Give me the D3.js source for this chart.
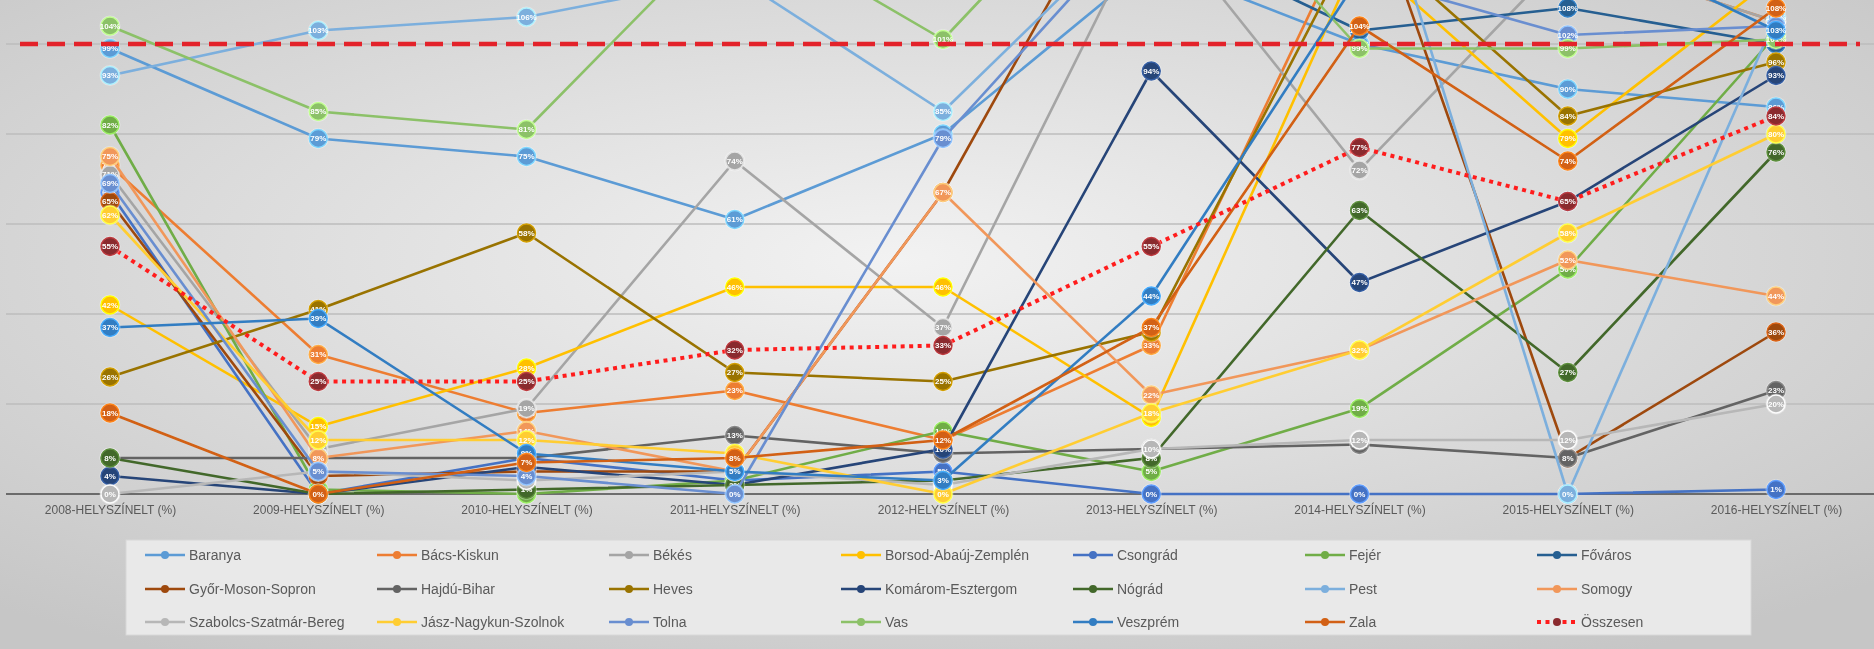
<!DOCTYPE html>
<html>
<head>
<meta charset="utf-8">
<script src="https://cdn.jsdelivr.net/npm/d3@7"></script>
<style>
  html, body { margin: 0; padding: 0; overflow: hidden; background: #d6d6d6; }
  svg { display: block; }
  text { font-family: "Liberation Sans", Arial, sans-serif; }
</style>
</head>
<body>
<svg id="chart" width="1874" height="649"></svg>
<script>
// kategóriák (évek)
const categories = [
  '2008-HELYSZÍNELT (%)', '2009-HELYSZÍNELT (%)', '2010-HELYSZÍNELT (%)',
  '2011-HELYSZÍNELT (%)', '2012-HELYSZÍNELT (%)', '2013-HELYSZÍNELT (%)',
  '2014-HELYSZÍNELT (%)', '2015-HELYSZÍNELT (%)', '2016-HELYSZÍNELT (%)'
];

// megyék értékei (%) – a kép tetején túlnyúló pontok becsültek
const baranya    = [99, 79, 75, 61, 80, 118, 100, 90, 86];
const bacsKiskun = [73, 31, 18, 23, 12, 33, 130, 120, 105];
const bekes      = [71, 10, 19, 74, 37, 130, 72, 120, 105];
const borsod     = [42, 15, 28, 46, 46, 17, 120, 79, 115];
const csongrad   = [67, 0, 8, 3, 5, 0, 0, 0, 1];
const fejer      = [82, 1, 0, 3, 14, 5, 19, 50, 102];
const fovaros    = [115, 118, 120, 118, 120, 125, 103, 108, 100];
const gyor       = [65, 4, 5, 5, 67, 150, 140, 8, 36];
const hajdu      = [8, 8, 8, 13, 9, 10, 11, 8, 23];
const heves      = [26, 41, 58, 27, 25, 36, 125, 84, 96];
const komarom    = [4, 0, 6, 2, 10, 94, 47, 65, 93];
const nograd     = [8, 0, 1, 2, 3, 8, 63, 27, 76];
const pest       = [93, 103, 106, 115, 85, 130, 150, 0, 106];
const somogy     = [75, 8, 14, 5, 67, 22, 32, 52, 44];
const szabolcs   = [0, 5, 3, 5, 2, 10, 12, 12, 20];
const jasz       = [62, 12, 12, 9, 0, 18, 32, 58, 80];
const tolna      = [69, 5, 4, 0, 79, 130, 115, 102, 104];
const vas        = [104, 85, 81, 128, 101, 150, 99, 99, 101];
const veszprem   = [37, 39, 9, 5, 3, 44, 115, 125, 103];
const zala       = [18, 0, 7, 8, 12, 37, 104, 74, 108];
const osszesen   = [55, 25, 25, 32, 33, 55, 77, 65, 84];

const targetValue = 100;
const yTicks = [0, 20, 40, 60, 80, 100];

const names = [
  'Baranya', 'Bács-Kiskun', 'Békés', 'Borsod-Abaúj-Zemplén', 'Csongrád', 'Fejér', 'Főváros',
  'Győr-Moson-Sopron', 'Hajdú-Bihar', 'Heves', 'Komárom-Esztergom', 'Nógrád', 'Pest', 'Somogy',
  'Szabolcs-Szatmár-Bereg', 'Jász-Nagykun-Szolnok', 'Tolna', 'Vas', 'Veszprém', 'Zala'
];
const colors = [
  '#5B9BD5', '#ED7D31', '#A5A5A5', '#FFC000', '#4472C4', '#70AD47', '#255E91',
  '#9E480E', '#636363', '#997300', '#264478', '#43682B', '#7CAFDD', '#F1975A',
  '#B7B7B7', '#FFCD33', '#698ED0', '#8CC168', '#327DC2', '#D26012'
];
const seriesValues = [
  baranya, bacsKiskun, bekes, borsod, csongrad, fejer, fovaros,
  gyor, hajdu, heves, komarom, nograd, pest, somogy,
  szabolcs, jasz, tolna, vas, veszprem, zala
];

const series = names.map((n, i) => ({ name: n, color: colors[i], values: seriesValues[i] }));

const W = 1874, H = 649;
const svg = d3.select('#chart');
const defs = svg.append('defs');

const bg = defs.append('radialGradient').attr('id', 'bg')
  .attr('cx', '48%').attr('cy', '40%').attr('r', '72%');
bg.append('stop').attr('offset', '0%').attr('stop-color', '#f2f2f2');
bg.append('stop').attr('offset', '100%').attr('stop-color', '#c6c6c6');

defs.append('filter').attr('id', 'soft')
  .append('feGaussianBlur').attr('stdDeviation', 0.5);

svg.append('rect').attr('width', W).attr('height', H).attr('fill', 'url(#bg)');

const root = svg.append('g').attr('filter', 'url(#soft)');

const x = d3.scalePoint().domain(categories).range([110, 1776]);
const y = d3.scaleLinear().domain([0, 100]).range([494, 44]);

// rácsvonalak
root.append('g').selectAll('line')
  .data(yTicks.filter(d => d > 0))
  .join('line')
  .attr('x1', 6).attr('x2', W)
  .attr('y1', d => y(d)).attr('y2', d => y(d))
  .attr('stroke', '#bcbcbc').attr('stroke-width', 1.3);

// x tengely
const xAxis = root.append('g')
  .attr('transform', `translate(0,${y(0)})`)
  .call(d3.axisBottom(x).tickSize(0).tickPadding(11));
xAxis.select('.domain').attr('d', `M6,0H${W}`).attr('stroke', '#4a4a4a').attr('stroke-width', 1.6);
xAxis.selectAll('text').attr('fill', '#5a5a5a').attr('font-size', 12);

const line = d3.line()
  .x((d, i) => x(categories[i]))
  .y(d => y(d));

const plot = root.append('g');

function drawSeries(s, opts) {
  const g = plot.append('g');
  g.append('path')
    .attr('d', line(s.values))
    .attr('fill', 'none')
    .attr('stroke', opts.lineColor || s.color)
    .attr('stroke-width', opts.width || 2.6)
    .attr('stroke-dasharray', opts.dash || null)
    .attr('stroke-linejoin', 'round');

  // a kép felső szélén túli pontok úgysem látszanak
  const pts = g.selectAll('g.pt')
    .data(s.values.map((v, i) => ({ v, i })).filter(d => y(d.v) > -11))
    .join('g')
    .attr('class', 'pt')
    .attr('transform', d => `translate(${x(categories[d.i])},${y(d.v)})`);

  pts.append('circle')
    .attr('r', 10.5)
    .attr('fill', '#ffffff')
    .attr('opacity', 0.35);
  pts.append('circle')
    .attr('r', 9)
    .attr('fill', opts.markerColor || s.color)
    .attr('stroke', d3.color(opts.markerColor || s.color).brighter(0.9))
    .attr('stroke-width', 1.4);
  pts.filter(d => y(d.v) > 4).append('text')
    .attr('text-anchor', 'middle')
    .attr('dy', '0.35em')
    .attr('font-size', 8)
    .attr('font-weight', 'bold')
    .attr('fill', '#ffffff')
    .text(d => Math.round(d.v) + '%');
}

series.forEach(s => drawSeries(s, {}));

// 100%-os célvonal
root.append('line')
  .attr('x1', 20).attr('x2', 1860)
  .attr('y1', y(targetValue)).attr('y2', y(targetValue))
  .attr('stroke', '#e3242b')
  .attr('stroke-width', 4.5)
  .attr('stroke-dasharray', '18,9');

drawSeries({ name: 'Összesen', color: '#ff1f1f', values: osszesen },
  { width: 4, dash: '4,4.5', markerColor: '#8a2a2e' });

// jelmagyarázat
const legend = root.append('g');
legend.append('rect')
  .attr('x', 126).attr('y', 540).attr('width', 1625).attr('height', 95)
  .attr('fill', '#e9e9e9').attr('stroke', '#d8d8d8');

const legendItems = series.concat([{ name: 'Összesen', color: '#ff1f1f', total: true }]);
const rowsY = [555, 589, 622];

const item = legend.selectAll('g.item')
  .data(legendItems)
  .join('g')
  .attr('class', 'item')
  .attr('transform', (d, i) => `translate(${145 + 232 * (i % 7)},${rowsY[Math.floor(i / 7)]})`);

item.append('line')
  .attr('x1', 0).attr('x2', 40)
  .attr('stroke', d => d.color)
  .attr('stroke-width', d => d.total ? 4 : 2.6)
  .attr('stroke-dasharray', d => d.total ? '4,4.5' : null);
item.append('circle')
  .attr('cx', 20).attr('r', 4)
  .attr('fill', d => d.total ? '#8a2a2e' : d.color);
item.append('text')
  .attr('x', 44).attr('dy', '0.35em')
  .attr('font-size', 14)
  .attr('fill', '#5a5a5a')
  .text(d => d.name);
</script>
</body>
</html>
